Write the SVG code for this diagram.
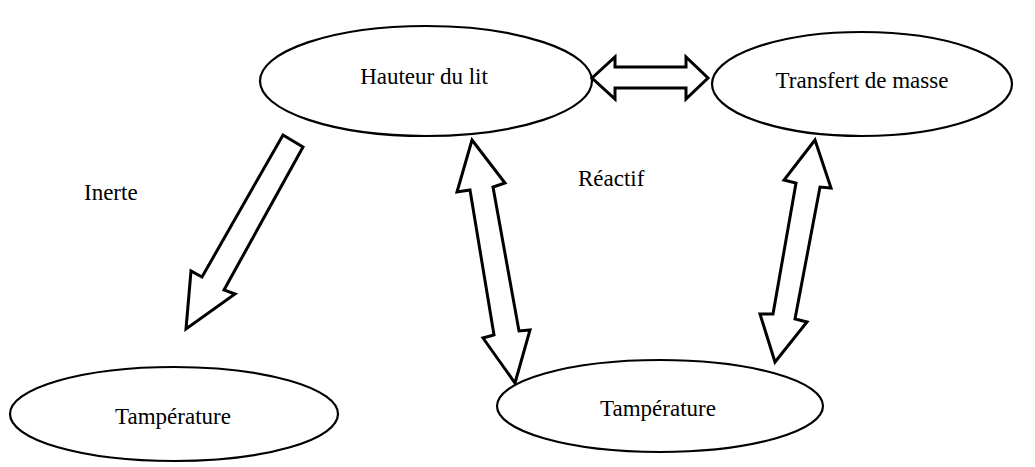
<svg xmlns="http://www.w3.org/2000/svg" width="1035" height="467" viewBox="0 0 1035 467">
<style>
.n{fill:#fff;stroke:#000;stroke-width:2.2}
.a{fill:#fff;stroke:#000;stroke-width:3;stroke-linejoin:miter}
.t{font-family:"Liberation Serif","Times New Roman",serif;font-size:23px;fill:#000;text-anchor:middle}
.l{font-family:"Liberation Serif","Times New Roman",serif;font-size:23px;fill:#000}
</style>
<rect width="1035" height="467" fill="#fff"/>
<g id="hauteur"><ellipse class="n" cx="426" cy="81" rx="166" ry="55"/><text class="t" x="424" y="84">Hauteur du lit</text></g>
<g id="transfert"><ellipse class="n" cx="862" cy="84" rx="150" ry="52"/><text class="t" x="862" y="88">Transfert de masse</text></g>
<g id="temp-inerte"><ellipse class="n" cx="174" cy="414" rx="164" ry="47"/><text class="t" x="173" y="424">Tampérature</text></g>
<g id="temp-reactif"><ellipse class="n" cx="660" cy="406" rx="163" ry="46"/><text class="t" x="658" y="416">Tampérature</text></g>
<g id="labels"><text class="l" x="84" y="200">Inerte</text><text class="l" x="578" y="186">Réactif</text></g>
<g id="connectors">
<polygon class="a" points="592,78 615,57 615,67 686,67 686,57 708,78 686,99 686,88 615,88 615,99"/>
<polygon class="a" points="283,135 303,147 224,290 235,294 186,329 191,271 202,277"/>
<polygon class="a" points="472,140 505,183 493,187 519,331 530,330 515,383 483,338 494,335 470,190 457,192"/>
<polygon class="a" points="815,140 831,188 820,187 795,319 807,322 775,362 760,314 773,314 796,183 784,180"/>
</g>
</svg>
